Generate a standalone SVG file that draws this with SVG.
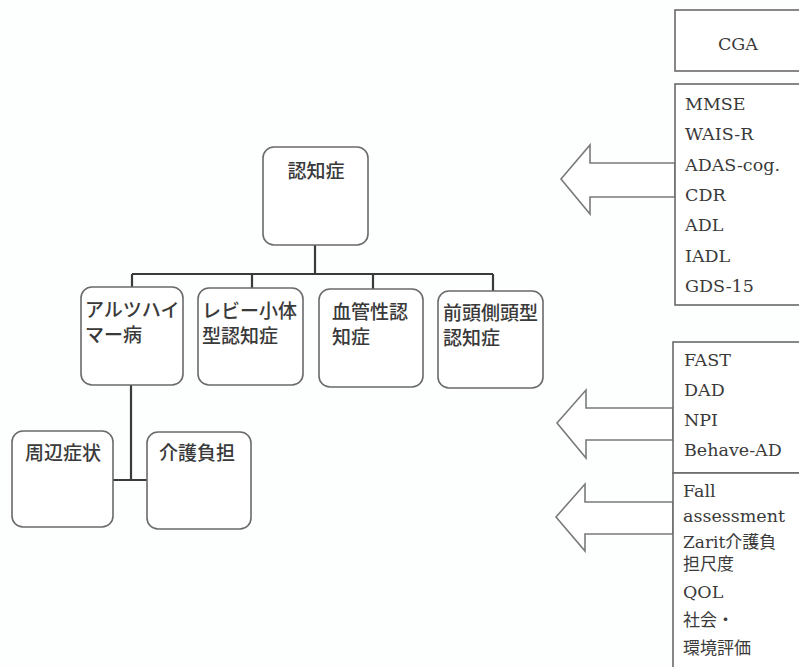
<svg xmlns="http://www.w3.org/2000/svg" width="799" height="667" viewBox="0 0 799 667">
<style>
.box{fill:#ffffff;stroke:#6a6a6a;stroke-width:1.6}
.rbox{fill:#ffffff;stroke:#6a6a6a;stroke-width:1.6}
.line{fill:none;stroke:#3a3a3a;stroke-width:2.2}
.arrow{fill:#ffffff;stroke:#7a7a7a;stroke-width:1.6;stroke-linejoin:miter}
.jp{font-family:"Noto Sans CJK JP","Noto Sans",sans-serif;font-size:19px;fill:#3a3a3a;font-weight:500}
.en{font-family:"DejaVu Serif","Liberation Serif","Noto Sans CJK JP",serif;font-size:17.5px;fill:#3a3a3a}
.enj{font-family:"DejaVu Serif","Noto Sans CJK JP",serif;font-size:17px;fill:#3a3a3a}
</style>
<rect x="0" y="0" width="799" height="667" fill="#fdfefe"/>
<g id="connectors">
<path class="line" d="M315,245 V274 M132,274 H493 M132,274 V287 M252,274 V288 M373,274 V289 M493,274 V291"/>
<path class="line" d="M131,385 V480 M113,480 H147"/>
<polygon class="arrow" points="675,163 590,163 590,145 561,179 590,214 590,197 675,197"/>
<polygon class="arrow" points="673,408 586,408 586,390 557,423 586,458 586,440 673,440"/>
<polygon class="arrow" points="673,502 585,502 585,484 556,517 585,551 585,534 673,534"/>
</g>
<g id="root">
<rect class="rbox" x="263" y="147" width="105" height="98" rx="11"/>
<text class="jp" x="316" y="178" text-anchor="middle">認知症</text>
</g>
<g id="alz">
<rect class="rbox" x="81" y="287" width="102" height="98" rx="11"/>
<text class="jp" x="85" y="317">アルツハイ</text>
<text class="jp" x="85" y="342">マー病</text>
</g>
<g id="lewy">
<rect class="rbox" x="198" y="288" width="105" height="97" rx="11"/>
<text class="jp" x="202" y="318">レビー小体</text>
<text class="jp" x="202" y="343">型認知症</text>
</g>
<g id="vascular">
<rect class="rbox" x="319" y="289" width="104" height="98" rx="11"/>
<text class="jp" x="332" y="319">血管性認</text>
<text class="jp" x="332" y="344">知症</text>
</g>
<g id="ftd">
<rect class="rbox" x="438" y="291" width="105" height="97" rx="11"/>
<text class="jp" x="443" y="320">前頭側頭型</text>
<text class="jp" x="443" y="345">認知症</text>
</g>
<g id="bpsd">
<rect class="rbox" x="12" y="431" width="101" height="96" rx="11"/>
<text class="jp" x="25" y="460">周辺症状</text>
</g>
<g id="burden">
<rect class="rbox" x="147" y="432" width="104" height="97" rx="11"/>
<text class="jp" x="159" y="460">介護負担</text>
</g>
<g id="cga">
<rect class="box" x="675" y="10" width="130" height="61"/>
<text class="en" x="738" y="50" text-anchor="middle">CGA</text>
</g>
<g id="cognitive">
<rect class="box" x="675" y="84" width="130" height="221"/>
<text class="en" x="685" y="110">MMSE</text>
<text class="en" x="685" y="140">WAIS-R</text>
<text class="en" x="685" y="171">ADAS-cog.</text>
<text class="en" x="685" y="201">CDR</text>
<text class="en" x="685" y="231">ADL</text>
<text class="en" x="685" y="262">IADL</text>
<text class="en" x="685" y="292">GDS-15</text>
</g>
<g id="bpsd-tools">
<rect class="box" x="673" y="342" width="132" height="131"/>
<text class="en" x="684" y="366">FAST</text>
<text class="en" x="684" y="396">DAD</text>
<text class="en" x="684" y="426">NPI</text>
<text class="en" x="684" y="456">Behave-AD</text>
</g>
<g id="care-tools">
<rect class="box" x="673" y="473" width="132" height="210"/>
<text class="en" x="683" y="497">Fall</text>
<text class="en" x="683" y="522">assessment</text>
<text class="enj" x="683" y="548">Zarit介護負</text>
<text class="enj" x="683" y="570">担尺度</text>
<text class="en" x="683" y="598">QOL</text>
<text class="enj" x="683" y="626">社会・</text>
<text class="enj" x="683" y="654">環境評価</text>
</g>
</svg>
